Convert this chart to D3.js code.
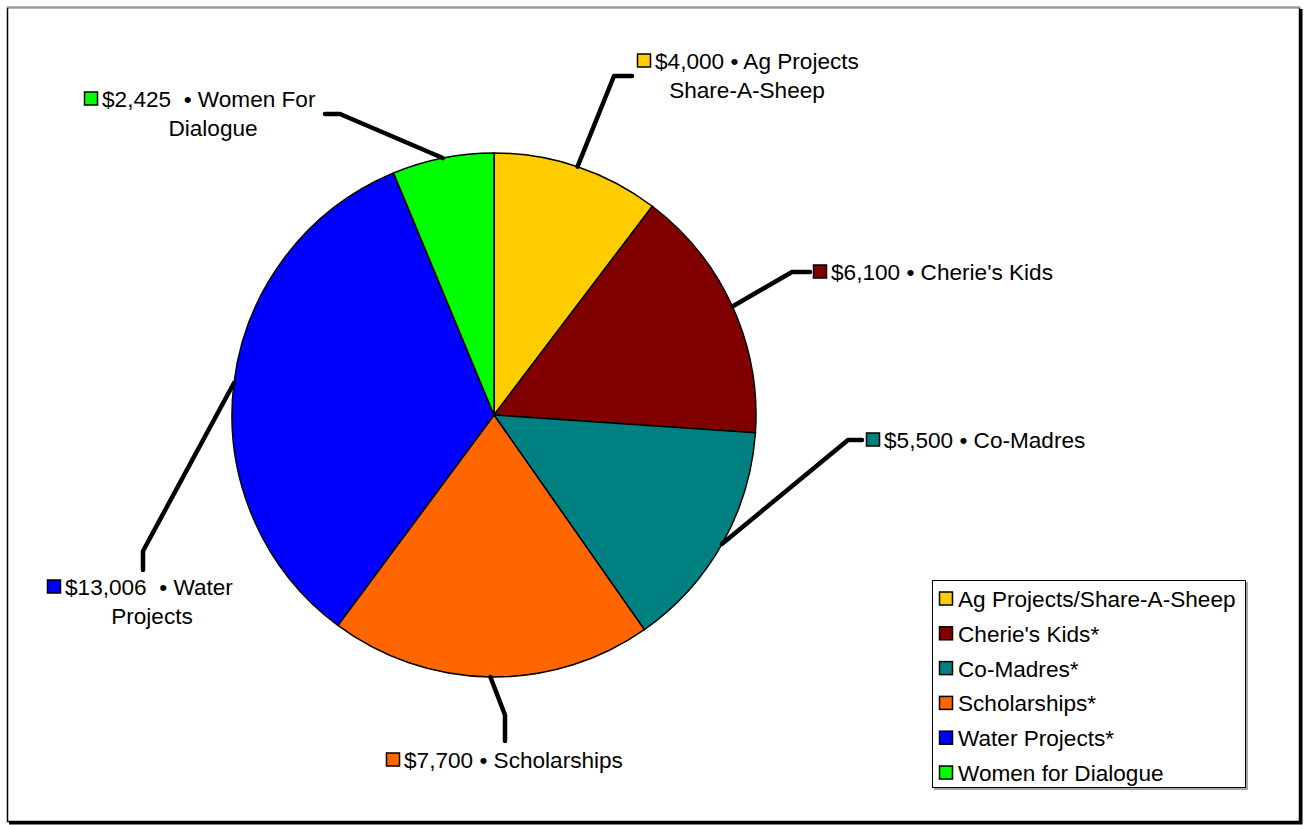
<!DOCTYPE html>
<html>
<head>
<meta charset="utf-8">
<script src="https://cdn.jsdelivr.net/npm/d3@7"></script>
<style>
  body { margin: 0; background: #fff; }
  svg text { font-family: "Liberation Sans", Arial, sans-serif; font-size: 22.6px; fill: #000; }
</style>
</head>
<body>
<svg id="chart" width="1304" height="825"></svg>
<script>
// data
var categories = ["Ag Projects/Share-A-Sheep", "Cherie's Kids*", "Co-Madres*", "Scholarships*", "Water Projects*", "Women for Dialogue"];
var amounts = [4000, 6100, 5500, 7700, 13006, 2425];
var amountLabels = ["$4,000", "$6,100", "$5,500", "$7,700", "$13,006 ", "$2,425 "];
var shortNames = [["Ag Projects", "Share-A-Sheep"], ["Cherie's Kids"], ["Co-Madres"], ["Scholarships"], ["Water", "Projects"], ["Women For", "Dialogue"]];
var colors = ["#FFCC00", "#800000", "#008080", "#FF6600", "#0000FF", "#00FF00"];

// where each callout label sits (square x, row centre y, elbow point, 2nd line centre)
var callouts = [
  { sx: 637, y: 61, elbow: [614, 76], end: [632, 76], cx2: 747 },
  { sx: 813, y: 272, elbow: [792, 272], end: [810, 272] },
  { sx: 866, y: 440, elbow: [848, 440], end: [862, 440] },
  { sx: 386, y: 760, elbow: [505, 715], end: [505, 741] },
  { sx: 47, y: 587, elbow: [143, 551], end: [143, 570], cx2: 152 },
  { sx: 84, y: 99, elbow: [340, 114], end: [325, 114], cx2: 213 }
];

var svg = d3.select("#chart");

// outer frame with a little shadow on the right and bottom
svg.append("rect").attr("x", 7.5).attr("y", 7.5).attr("width", 1292).attr("height", 814)
  .attr("fill", "#fff").attr("stroke", "#000").attr("stroke-width", 1.5);
svg.append("line").attr("x1", 7).attr("x2", 1300).attr("y1", 7.5).attr("y2", 7.5)
  .attr("stroke", "#999").attr("stroke-width", 1.5);
svg.append("polyline").attr("points", "1301,9 1301,823 9,823")
  .attr("fill", "none").attr("stroke", "#000").attr("stroke-width", 3);

var cx = 494, cy = 415, r = 262;

var pie = d3.pie().sort(null).value(function (d) { return d; });
var arcs = pie(amounts);
var arc = d3.arc().innerRadius(0).outerRadius(r);

var g = svg.append("g").attr("transform", "translate(" + cx + "," + cy + ")");
g.selectAll("path.slice").data(arcs).enter().append("path")
  .attr("class", "slice")
  .attr("d", arc)
  .attr("fill", function (d, i) { return colors[i]; })
  .attr("stroke", "#000").attr("stroke-width", 1.5);

// leader lines from the middle of each slice edge
arcs.forEach(function (d, i) {
  var mid = (d.startAngle + d.endAngle) / 2;
  var px = cx + r * Math.sin(mid), py = cy - r * Math.cos(mid);
  var c = callouts[i];
  svg.append("polyline")
    .attr("points", [[px, py], c.elbow, c.end].map(function (p) { return p.join(","); }).join(" "))
    .attr("fill", "none").attr("stroke", "#000").attr("stroke-width", 4.5)
    .attr("stroke-linejoin", "round").attr("stroke-linecap", "round");
});

// callout labels
var sq = 13;
callouts.forEach(function (c, i) {
  svg.append("rect").attr("x", c.sx + 0.5).attr("y", c.y - 7).attr("width", sq).attr("height", sq)
    .attr("fill", colors[i]).attr("stroke", "#000").attr("stroke-width", 1.5);
  svg.append("text").attr("x", c.sx + 18).attr("y", c.y + 8)
    .attr("xml:space", "preserve")
    .text(amountLabels[i] + " \u2022 " + shortNames[i][0]);
  if (shortNames[i][1]) {
    svg.append("text").attr("x", c.cx2).attr("y", c.y + 8 + 29)
      .attr("text-anchor", "middle")
      .text(shortNames[i][1]);
  }
});

// legend
var legend = svg.append("g");
legend.append("polyline").attr("points", "1247,582 1247,789 934,789")
  .attr("fill", "none").attr("stroke", "#888").attr("stroke-width", 1.5);
legend.append("rect").attr("x", 932.5).attr("y", 580.5).attr("width", 313).attr("height", 207)
  .attr("fill", "#fff").attr("stroke", "#000").attr("stroke-width", 1);
var ly = d3.scalePoint().domain(categories).range([599, 773]);
categories.forEach(function (name, i) {
  legend.append("rect").attr("x", 939.5).attr("y", ly(name) - 7).attr("width", sq).attr("height", sq)
    .attr("fill", colors[i]).attr("stroke", "#000").attr("stroke-width", 1.5);
  legend.append("text").attr("x", 958).attr("y", ly(name) + 8).text(name);
});
</script>
</body>
</html>
